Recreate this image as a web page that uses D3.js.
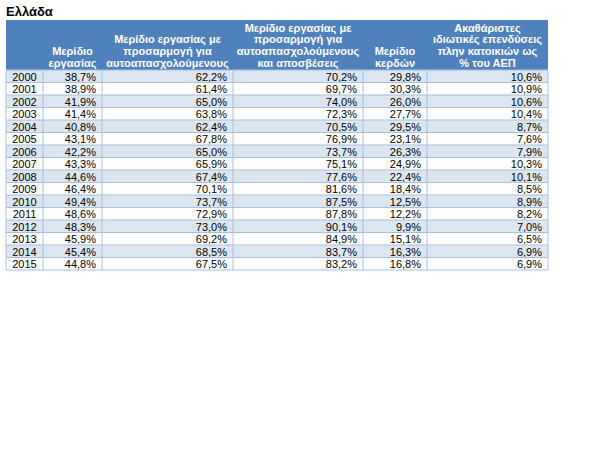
<!DOCTYPE html>
<html>
<head>
<meta charset="utf-8">
<script src="https://cdn.jsdelivr.net/npm/d3@7"></script>
<style>
    body { margin: 0; background: #ffffff; }
    svg { font-family: "Liberation Sans", Arial, sans-serif; }
</style>
</head>
<body>
<div id="chart"></div>
<script>
const title = "Ελλάδα";
const years = [2000, 2001, 2002, 2003, 2004, 2005, 2006, 2007, 2008, 2009, 2010, 2011, 2012, 2013, 2014, 2015];
const headers = [
    [""],
    ["Μερίδιο", "εργασίας"],
    ["Μερίδιο εργασίας με", "προσαρμογή για", "αυτοαπασχολούμενους"],
    ["Μερίδιο εργασίας με", "προσαρμογή για", "αυτοαπασχολούμενους", "και αποσβέσεις"],
    ["Μερίδιο", "κερδών"],
    ["Ακαθάριστες", "ιδιωτικές επενδύσεις", "πλην κατοικιών ως", "% του ΑΕΠ"]
];
const laborShare = [38.7, 38.9, 41.9, 41.4, 40.8, 43.1, 42.2, 43.3, 44.6, 46.4, 49.4, 48.6, 48.3, 45.9, 45.4, 44.8];
const laborAdjusted = [62.2, 61.4, 65.0, 63.8, 62.4, 67.8, 65.0, 65.9, 67.4, 70.1, 73.7, 72.9, 73.0, 69.2, 68.5, 67.5];
const laborAdjDepr = [70.2, 69.7, 74.0, 72.3, 70.5, 76.9, 73.7, 75.1, 77.6, 81.6, 87.5, 87.8, 90.1, 84.9, 83.7, 83.2];
const profitShare = [29.8, 30.3, 26.0, 27.7, 29.5, 23.1, 26.3, 24.9, 22.4, 18.4, 12.5, 12.2, 9.9, 15.1, 16.3, 16.8];
const investment = [10.6, 10.9, 10.6, 10.4, 8.7, 7.6, 7.9, 10.3, 10.1, 8.5, 8.9, 8.2, 7.0, 6.5, 6.9, 6.9];

const series = [laborShare, laborAdjusted, laborAdjDepr, profitShare, investment];

const width = 614, height = 460;
const svg = d3.select("#chart").append("svg")
    .attr("width", width)
    .attr("height", height);

// column edges
const colEdges = [6, 43, 102, 233, 363, 427, 548];
const colIdx = d3.range(headers.length);
const xLeft = d3.scaleOrdinal().domain(colIdx).range(colEdges.slice(0, -1));
const xRight = d3.scaleOrdinal().domain(colIdx).range(colEdges.slice(1));

const headerTop = 20, headerBottom = 70, rowH = 12.5;
const y = d3.scaleBand()
    .domain(years)
    .range([headerBottom, headerBottom + years.length * rowH])
    .padding(0);

const locale = d3.formatLocale({decimal: ",", thousands: ".", grouping: [3], currency: ["", "€"]});
const fmt = locale.format(".1f");

svg.append("text")
    .attr("x", 6)
    .attr("y", 16)
    .attr("font-size", 13)
    .attr("font-weight", "bold")
    .attr("fill", "#000")
    .text(title);

// header
svg.append("rect")
    .attr("x", colEdges[0])
    .attr("y", headerTop)
    .attr("width", colEdges[colEdges.length - 1] - colEdges[0])
    .attr("height", headerBottom - headerTop)
    .attr("fill", "#4f81bd");

const lineH = 11.6;
const headerG = svg.selectAll("g.header")
    .data(headers)
    .enter()
    .append("text")
    .attr("font-size", 11)
    .attr("font-weight", "bold")
    .attr("fill", "#ffffff")
    .attr("text-anchor", "middle")
    .each(function (lines, i) {
        const cx = (xLeft(i) + xRight(i)) / 2;
        d3.select(this).selectAll("tspan")
            .data(lines)
            .enter()
            .append("tspan")
            .attr("x", cx)
            .attr("y", function (d, j) {
                return headerBottom - 3.5 - (lines.length - 1 - j) * lineH;
            })
            .text(function (d) { return d; });
    });

// rows
const rows = svg.selectAll("g.row")
    .data(years)
    .enter()
    .append("g")
    .attr("class", "row")
    .attr("transform", function (d) { return "translate(0," + y(d) + ")"; });

rows.append("rect")
    .attr("x", colEdges[0])
    .attr("width", colEdges[colEdges.length - 1] - colEdges[0])
    .attr("height", y.bandwidth())
    .attr("fill", function (d, i) { return i % 2 === 0 ? "#dce6f1" : "#ffffff"; });

rows.append("text")
    .attr("x", (xLeft(0) + xRight(0)) / 2)
    .attr("y", 10.5)
    .attr("font-size", 11)
    .attr("text-anchor", "middle")
    .attr("fill", "#000")
    .text(function (d) { return d; });

rows.each(function (yr, r) {
    d3.select(this).selectAll("text.val")
        .data(series.map(function (s) { return s[r]; }))
        .enter()
        .append("text")
        .attr("class", "val")
        .attr("x", function (d, i) { return xRight(i + 1) - 6; })
        .attr("y", 10.5)
        .attr("font-size", 11)
        .attr("text-anchor", "end")
        .attr("fill", "#000")
        .text(function (d) { return fmt(d) + "%"; });
});

// grid lines
const border = "#a7bfde";
const bodyTop = y.range()[0], bodyBottom = y.range()[1];
svg.selectAll("line.h")
    .data(years.map(function (d) { return y(d); }).concat([bodyBottom]))
    .enter()
    .append("line")
    .attr("x1", colEdges[0])
    .attr("x2", colEdges[colEdges.length - 1])
    .attr("y1", function (d) { return d; })
    .attr("y2", function (d) { return d; })
    .attr("stroke", border)
    .attr("stroke-width", 1);

svg.selectAll("line.v")
    .data(colEdges)
    .enter()
    .append("line")
    .attr("x1", function (d) { return d; })
    .attr("x2", function (d) { return d; })
    .attr("y1", bodyTop)
    .attr("y2", bodyBottom)
    .attr("stroke", border)
    .attr("stroke-width", 1);
</script>
</body>
</html>
